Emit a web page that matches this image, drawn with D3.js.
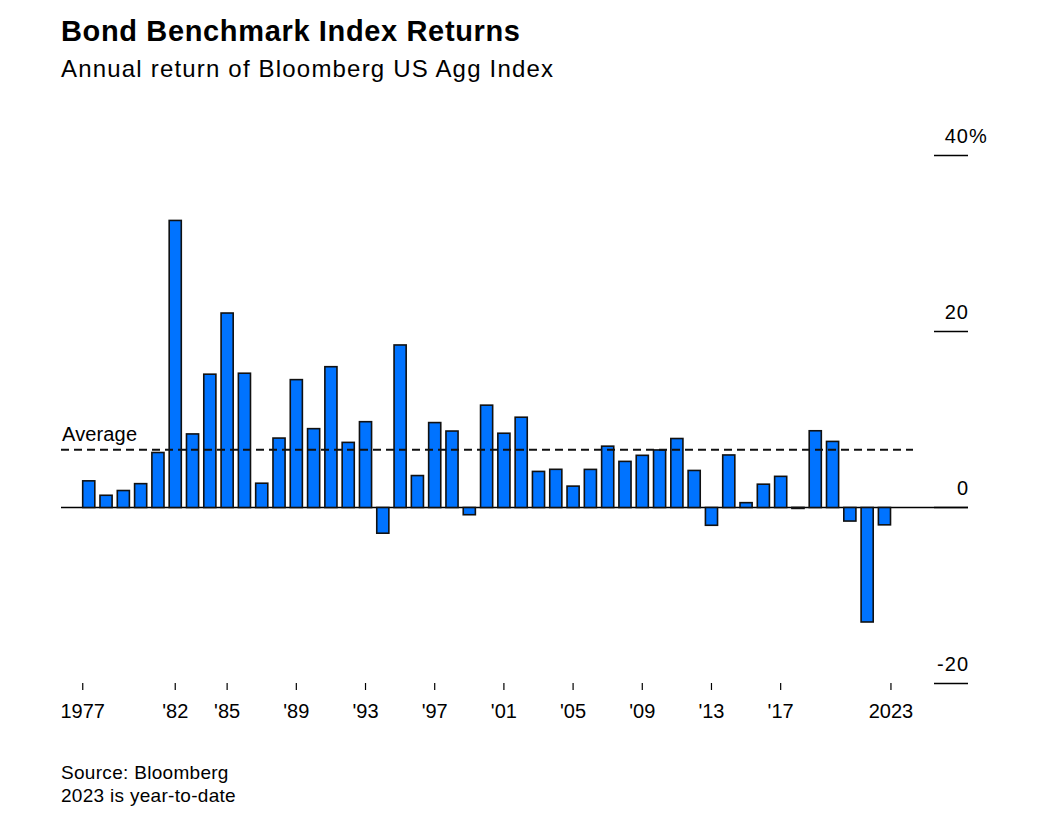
<!DOCTYPE html>
<html>
<head>
<meta charset="utf-8">
<script src="https://cdn.jsdelivr.net/npm/d3@7"></script>
<style>
  html, body { margin: 0; padding: 0; background: #ffffff; }
  svg { display: block; }
  text { font-family: "Liberation Sans", Arial, Helvetica, sans-serif; fill: #000; }
</style>
</head>
<body>
<svg id="chart" width="1037" height="833"></svg>
<script>
// ---- Data ----
const years = d3.range(1977, 2024);
const returns = [
  3.03, 1.39, 1.93, 2.71, 6.25, 32.62, 8.36, 15.15, 22.10, 15.26,
  2.76, 7.89, 14.53, 8.96, 16.00, 7.40, 9.75, -2.92, 18.47, 3.63,
  9.65, 8.69, -0.82, 11.63, 8.44, 10.26, 4.10, 4.34, 2.43, 4.33,
  6.97, 5.24, 5.93, 6.54, 7.84, 4.21, -2.02, 5.97, 0.55, 2.65,
  3.54, 0.01, 8.72, 7.51, -1.54, -13.01, -1.97
];
const averageReturn = 6.56;
const xTickYears = [1977, 1982, 1985, 1989, 1993, 1997, 2001, 2005, 2009, 2013, 2017, 2023];
const xTickLabels = ["1977", "'82", "'85", "'89", "'93", "'97", "'01", "'05", "'09", "'13", "'17", "2023"];
const yTickValues = [40, 20, 0, -20];
const yTickLabels = ["40%", "20", "0", "-20"];

const titleText = "Bond Benchmark Index Returns";
const subtitleText = "Annual return of Bloomberg US Agg Index";
const sourceLines = ["Source: Bloomberg", "2023 is year-to-date"];

// ---- Layout ----
const svg = d3.select("#chart");
const plotLeft = 61, plotRight = 968;
const y = d3.scaleLinear().domain([-20, 40]).range([683.5, 155.5]);
const x = d3.scaleBand().domain(years).range([80.1, 893.1]).paddingInner(0.3).paddingOuter(0.15);

// Title
svg.append("text").attr("x", 61).attr("y", 41)
  .style("font-size", "29px").style("font-weight", "bold")
  .attr("textLength", 459).attr("lengthAdjust", "spacing")
  .text(titleText);
svg.append("text").attr("x", 61).attr("y", 77)
  .style("font-size", "24px")
  .attr("textLength", 492).attr("lengthAdjust", "spacing")
  .text(subtitleText);

// Y axis (right): tick lines with labels above
const yAxis = svg.append("g").attr("class", "y-axis");
yTickValues.forEach((v, i) => {
  yAxis.append("line")
    .attr("x1", 934).attr("x2", plotRight)
    .attr("y1", y(v)).attr("y2", y(v))
    .attr("stroke", "#000").attr("stroke-width", 1.4);
  const lbl = yTickLabels[i];
  const num = lbl.endsWith("%") ? lbl.slice(0, -1) : lbl;
  yAxis.append("text")
    .attr("x", plotRight + 1).attr("y", y(v) - 13)
    .attr("text-anchor", "end")
    .style("font-size", "20px").style("letter-spacing", "1px")
    .text(num);
  if (lbl.endsWith("%")) {
    yAxis.append("text").attr("x", plotRight + 1).attr("y", y(v) - 13)
      .style("font-size", "20px").text("%");
  }
});

// Zero baseline
svg.append("line")
  .attr("x1", plotLeft).attr("x2", plotRight)
  .attr("y1", y(0)).attr("y2", y(0))
  .attr("stroke", "#000").attr("stroke-width", 1.4);

// Bars
svg.append("g").selectAll("rect")
  .data(years.map((yr, i) => ({ yr, v: returns[i] })))
  .join("rect")
  .attr("x", d => x(d.yr))
  .attr("width", x.bandwidth())
  .attr("y", d => d.v >= 0 ? y(d.v) : y(0))
  .attr("height", d => Math.max(Math.abs(y(d.v) - y(0)), 1))
  .attr("fill", "#0073FF")
  .attr("stroke", "#111")
  .attr("stroke-width", 1.6);

// Average line
svg.append("line")
  .attr("x1", plotLeft).attr("x2", 913)
  .attr("y1", y(averageReturn)).attr("y2", y(averageReturn))
  .attr("stroke", "#111").attr("stroke-width", 2)
  .attr("stroke-dasharray", "8,5");
svg.append("text").attr("x", 62).attr("y", 441)
  .style("font-size", "20px").attr("textLength", 75).attr("lengthAdjust", "spacing")
  .text("Average");

// X axis ticks
const xAxis = svg.append("g").attr("class", "x-axis");
xTickYears.forEach((yr, i) => {
  let cx = x(yr) + x.bandwidth() / 2;
  if (i === 0) cx -= 6;
  if (i === xTickYears.length - 1) cx += 6.5;
  xAxis.append("line")
    .attr("x1", cx).attr("x2", cx).attr("y1", 683).attr("y2", 690)
    .attr("stroke", "#000").attr("stroke-width", 1.2);
  xAxis.append("text")
    .attr("x", cx).attr("y", 718)
    .attr("text-anchor", "middle")
    .style("font-size", "20px")
    .text(xTickLabels[i]);
});

// Source
sourceLines.forEach((s, i) => {
  svg.append("text").attr("x", 61).attr("y", 779 + i * 23)
    .style("font-size", "19px").style("letter-spacing", "0.3px").text(s);
});
</script>
</body>
</html>
